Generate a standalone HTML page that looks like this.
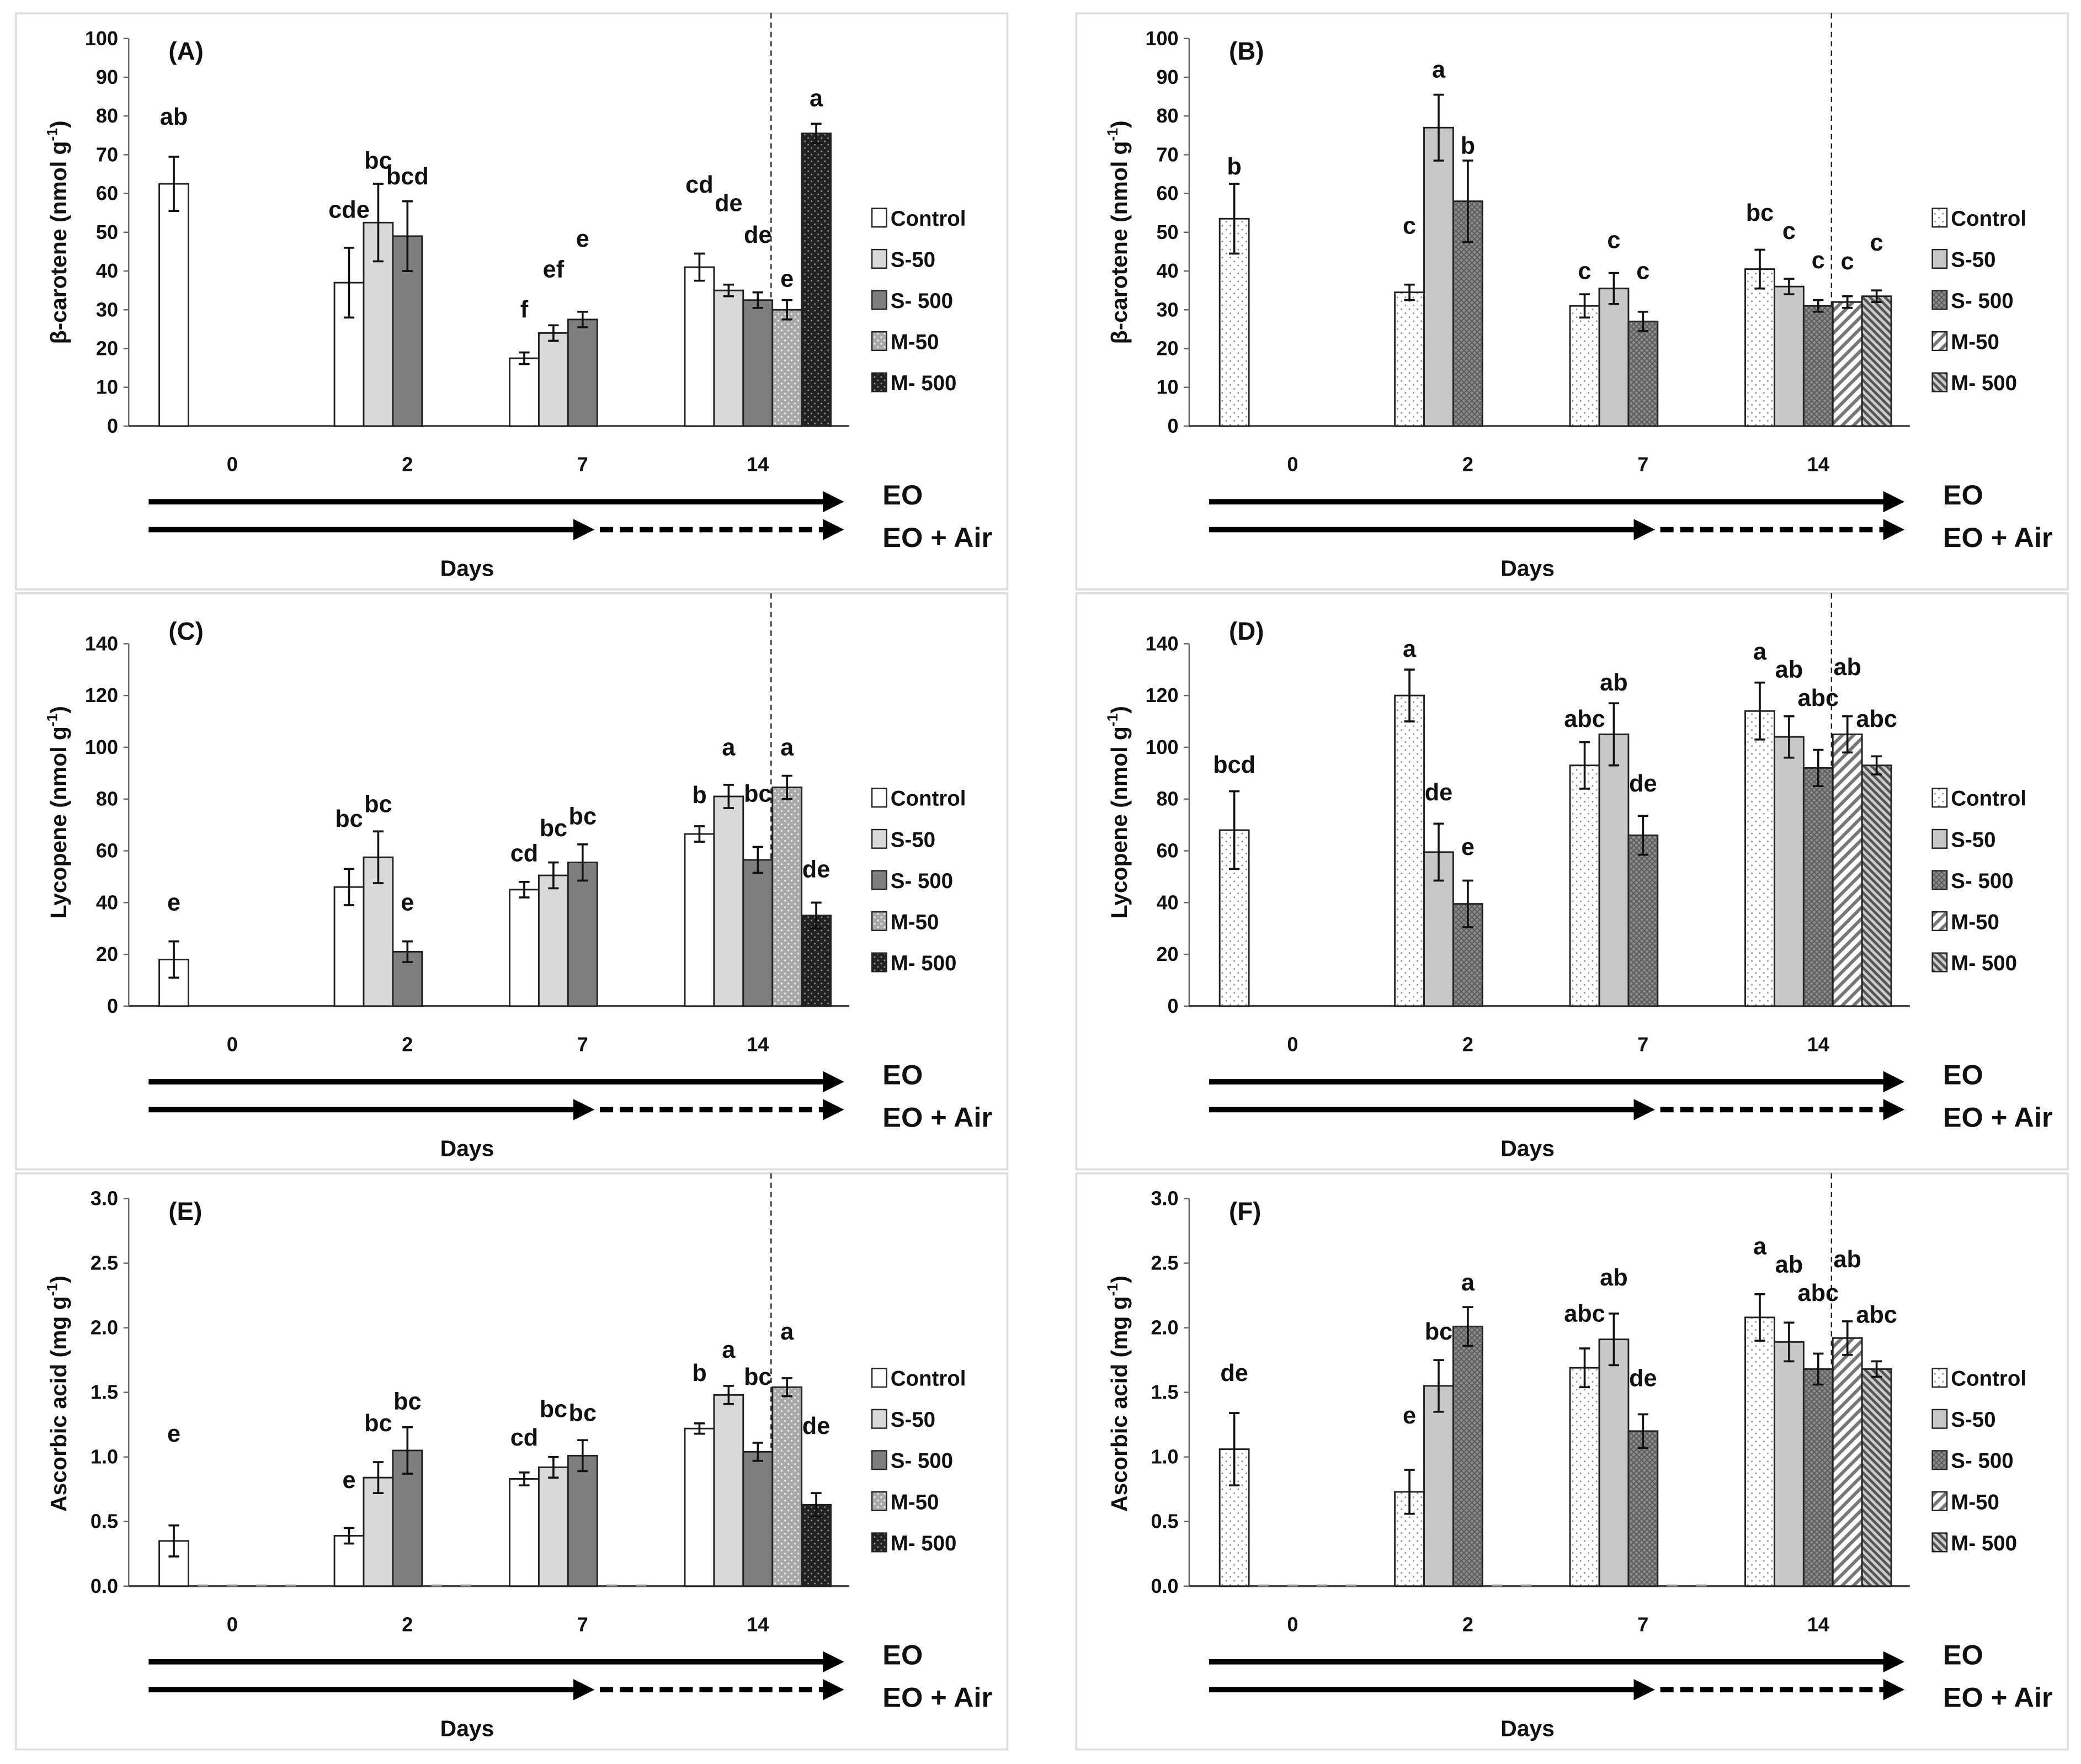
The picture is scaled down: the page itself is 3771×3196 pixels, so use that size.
<!DOCTYPE html>
<html><head><meta charset="utf-8"><style>
html,body{margin:0;padding:0;background:#fff}
svg{display:block}
text{font-family:"Liberation Sans",sans-serif;font-weight:bold;fill:#111}
</style></head><body>
<svg id="fig" width="3771" height="3196" viewBox="0 0 1568 1329" preserveAspectRatio="none" xmlns="http://www.w3.org/2000/svg">
<defs>
<pattern id="dotsLight" width="5" height="5" patternUnits="userSpaceOnUse"><rect width="5" height="5" fill="#a8a8a8"/><circle cx="1.5" cy="1.5" r="0.7" fill="#eee"/><circle cx="4" cy="4" r="0.7" fill="#eee"/></pattern>
<pattern id="dotsDark" width="5" height="5" patternUnits="userSpaceOnUse"><rect width="5" height="5" fill="#222"/><circle cx="1.5" cy="1.5" r="0.6" fill="#999"/><circle cx="4" cy="4" r="0.6" fill="#999"/></pattern>
<pattern id="dotsWhite" width="6" height="6" patternUnits="userSpaceOnUse"><rect width="6" height="6" fill="#fff"/><circle cx="2" cy="2" r="0.6" fill="#888"/><circle cx="5" cy="5" r="0.6" fill="#888"/></pattern>
<pattern id="cross" width="4" height="4" patternUnits="userSpaceOnUse"><rect width="4" height="4" fill="#8a8a8a"/><path d="M0 0L4 4M4 0L0 4" stroke="#5a5a5a" stroke-width="0.8"/></pattern>
<pattern id="diagW" width="6" height="6" patternUnits="userSpaceOnUse" patternTransform="rotate(45)"><rect width="6" height="6" fill="#fff"/><rect width="2.5" height="6" fill="#777"/></pattern>
<pattern id="diagG" width="4" height="4" patternUnits="userSpaceOnUse" patternTransform="rotate(-45)"><rect width="4" height="4" fill="#ccc"/><rect width="2" height="4" fill="#555"/></pattern>
<marker id="ah" markerWidth="4" markerHeight="4" refX="2" refY="2" orient="auto"><path d="M0 0L4 2L0 4Z" fill="#000"/></marker>
</defs>
</svg>
<script>
// ---- data ----
const categories = ["0","2","7","14"];
const seriesNames = ["Control","S-50","S- 500","M-50","M- 500"];
// Panel A: beta-carotene
const aVals = [[62.5,null,null,null,null],[37,52.5,49,null,null],[17.5,24,27.5,null,null],[41,35,32.5,30,75.5]];
const aErr  = [[7,0,0,0,0],[9,10,9,0,0],[1.5,2,2,0,0],[3.5,1.5,2,2.5,2.5]];
const aLet  = [["ab"],["cde","bc","bcd"],["f","ef","e"],["cd","de","de","e","a"]];
const aLetY = [[79.8],[55.8,68.5,64.4],[30.1,40.4,48.3],[62.3,57.5,49.3,38,84.6]];
// Panel B: beta-carotene
const bVals = [[53.5,null,null,null,null],[34.5,77,58,null,null],[31,35.5,27,null,null],[40.5,36,31,32,33.5]];
const bErr  = [[9,0,0,0,0],[2,8.5,10.5,0,0],[3,4,2.5,0,0],[5,2,1.5,1.5,1.5]];
const bLet  = [["b"],["c","a","b"],["c","c","c"],["bc","c","c","c","c"]];
const bLetY = [[67],[51.7,92,72.3],[40,48,40],[55,50.3,42.8,42.5,47.3]];
// Panel C: lycopene
const cVals = [[18,null,null,null,null],[46,57.5,21,null,null],[45,50.5,55.5,null,null],[66.5,81,56.5,84.5,35]];
const cErr  = [[7,0,0,0,0],[7,10,4,0,0],[3,5,7,0,0],[3,4.5,5,4.5,5]];
const cLet  = [["e"],["bc","bc","e"],["cd","bc","bc"],["b","a","bc","a","de"]];
const cLetY = [[40],[72.3,78,40],[59,68.7,73.3],[81.5,100,82,100,52.8]];
// Panel D: lycopene
const dVals = [[68,null,null,null,null],[120,59.5,39.5,null,null],[93,105,66,null,null],[114,104,92,105,93]];
const dErr  = [[15,0,0,0,0],[10,11,9,0,0],[9,12,7.5,0,0],[11,8,7,7,3.5]];
const dLet  = [["bcd"],["a","de","e"],["abc","ab","de"],["a","ab","abc","ab","abc"]];
const dLetY = [[93.3],[138,82.6,61.5],[111,125,86],[137,130,119,131,111]];
// Panel E: ascorbic acid
const eVals = [[0.35,0,0,0,0],[0.39,0.84,1.05,0,0],[0.83,0.92,1.01,0,0],[1.22,1.48,1.04,1.54,0.63]];
const eErr  = [[0.12,0,0,0,0],[0.06,0.12,0.18,0,0],[0.05,0.08,0.12,0,0],[0.04,0.07,0.07,0.07,0.09]];
const eLet  = [["e"],["e","bc","bc"],["cd","bc","bc"],["b","a","bc","a","de"]];
const eLetY = [[1.18],[0.82,1.26,1.43],[1.15,1.37,1.34],[1.65,1.83,1.62,1.97,1.24]];
// Panel F: ascorbic acid
const fVals = [[1.06,0,0,0,0],[0.73,1.55,2.01,0,0],[1.69,1.91,1.2,0,0],[2.08,1.89,1.68,1.92,1.68]];
const fErr  = [[0.28,0,0,0,0],[0.17,0.2,0.15,0,0],[0.15,0.2,0.13,0,0],[0.18,0.15,0.12,0.13,0.06]];
const fLet  = [["de"],["e","bc","a"],["abc","ab","de"],["a","ab","abc","ab","abc"]];
const fLetY = [[1.65],[1.32,1.97,2.35],[2.11,2.39,1.61],[2.63,2.49,2.27,2.53,2.1]];
const ticksBeta = [0,10,20,30,40,50,60,70,80,90,100];
const ticksLyc = [0,20,40,60,80,100,120,140];
const ticksAsc = ["0.0","0.5","1.0","1.5","2.0","2.5","3.0"];

const NS="http://www.w3.org/2000/svg";
const svg=document.getElementById('fig');
function mk(tag,attrs,parent,txt){const e=document.createElementNS(NS,tag);for(const k in attrs)e.setAttribute(k,attrs[k]);if(txt!==undefined)e.textContent=txt;(parent||svg).appendChild(e);return e;}

const fillsA=["#fff","#d9d9d9","#7f7f7f","url(#dotsLight)","url(#dotsDark)"];
const fillsB=["url(#dotsWhite)","#c8c8c8","url(#cross)","url(#diagW)","url(#diagG)"];

const panels=[
 {id:"A",ox:0,oy:0,top:29,vals:aVals,err:aErr,lt:aLet,ly:aLetY,ticks:ticksBeta,max:100,fills:fillsA,title:"β-carotene (nmol g",sup:"-1",zeroMarks:false,ty:175},
 {id:"B",ox:799,oy:0,top:29,vals:bVals,err:bErr,lt:bLet,ly:bLetY,ticks:ticksBeta,max:100,fills:fillsB,title:"β-carotene (nmol  g",sup:"-1",zeroMarks:false,ty:175},
 {id:"C",ox:0,oy:437,top:48,vals:cVals,err:cErr,lt:cLet,ly:cLetY,ticks:ticksLyc,max:140,fills:fillsA,title:"Lycopene (nmol g",sup:"-1",zeroMarks:false,ty:175},
 {id:"D",ox:799,oy:437,top:48,vals:dVals,err:dErr,lt:dLet,ly:dLetY,ticks:ticksLyc,max:140,fills:fillsB,title:"Lycopene (nmol g",sup:"-1",zeroMarks:false,ty:175},
 {id:"E",ox:0,oy:874,top:29,vals:eVals,err:eErr,lt:eLet,ly:eLetY,ticks:ticksAsc,max:3,fills:fillsA,title:"Ascorbic acid (mg g",sup:"-1",zeroMarks:true,ty:176},
 {id:"F",ox:799,oy:874,top:29,vals:fVals,err:fErr,lt:fLet,ly:fLetY,ticks:ticksAsc,max:3,fills:fillsB,title:"Ascorbic acid (mg g",sup:"-1",zeroMarks:true,ty:176}
];

panels.forEach(p=>{
  const g=mk('g',{transform:`translate(${p.ox},${p.oy})`});
  
  
  const frame=mk('rect',{x:12,y:10,width:747,height:434,fill:"none",stroke:"#ddd","stroke-width":1.5},g);
  
  
  const X0=97,Y0=321,Y1=p.top,XE=640;
  const yS=v=>Y0-(v/p.max)*(Y0-Y1);
  const xC=i=>175+i*132;
  const ya=mk('line',{x1:X0,y1:Y1,x2:X0,y2:Y0,stroke:"#666","stroke-width":1},g);
  
  
  p.ticks.forEach(t=>{
    const v=parseFloat(t);
    mk('line',{x1:X0-4,y1:yS(v),x2:X0,y2:yS(v),stroke:"#666"},g);
    const tl=mk('text',{x:X0-8,y:yS(v)+5,"text-anchor":"end","font-size":15},g,String(t));
    
    
  });
  const xa=mk('line',{x1:X0,y1:Y0,x2:XE,y2:Y0,stroke:"#444","stroke-width":1.5},g);
  
  
  const yt=mk('text',{x:0,y:0,transform:`translate(50,${p.ty}) rotate(-90)`,"text-anchor":"middle","font-size":17},g);
  
  
  mk('tspan',{},yt,p.title);
  mk('tspan',{dy:-7,"font-size":11},yt,p.sup);
  mk('tspan',{dy:7},yt,")");
  const pl=mk('text',{x:127,y:45,"font-size":19},g,"("+p.id+")");
  
  
  const dl=mk('line',{x1:581,y1:10,x2:581,y2:Y0,stroke:"#222","stroke-width":1,"stroke-dasharray":"4,3"},g);
  
  
  p.vals.forEach((grp,i)=>{
    grp.forEach((v,k)=>{
      if(v===null) return;
      const cx=xC(i)+(k-2)*22;
      if(v===0){ if(p.zeroMarks){mk('line',{x1:cx-4,y1:Y0-0.5,x2:cx+4,y2:Y0-0.5,stroke:"#999","stroke-width":1.5},g);} return; }
      const b=mk('rect',{x:cx-11,y:yS(v),width:22,height:Y0-yS(v),fill:p.fills[k],stroke:"#222","stroke-width":1.2},g);
      
      
      const e=p.err[i][k];
      if(e>0){
        const eb=mk('path',{d:`M${cx} ${yS(v+e)}V${yS(v-e)}M${cx-4} ${yS(v+e)}H${cx+4}M${cx-4} ${yS(v-e)}H${cx+4}`,stroke:"#111","stroke-width":1.5,fill:"none"},g);
        
        
      }
      const lt=p.lt[i][k];
      if(lt){
        const lb=mk('text',{x:cx,y:yS(p.ly[i][k])+6,"text-anchor":"middle","font-size":18},g,lt);
        
        
      }
    });
  });
  categories.forEach((c,i)=>{
    const t=mk('text',{x:xC(i),y:355,"text-anchor":"middle","font-size":15},g,c);
    
    
  });
  seriesNames.forEach((n,k)=>{
    const ly=164+k*31;
    const r=mk('rect',{x:657,y:ly-7,width:11,height:14,fill:p.fills[k],stroke:"#222","stroke-width":1},g);
    
    
    const t=mk('text',{x:671,y:ly+6,"font-size":16},g,n);
    
    
  });
  const a1=mk('line',{x1:112,y1:378,x2:628,y2:378,stroke:"#000","stroke-width":4,"marker-end":"url(#ah)"},g);
  
  
  mk('line',{x1:112,y1:399,x2:440,y2:399,stroke:"#000","stroke-width":4,"marker-end":"url(#ah)"},g);
  const a2=mk('line',{x1:452,y1:399,x2:628,y2:399,stroke:"#000","stroke-width":4,"stroke-dasharray":"10,5","marker-end":"url(#ah)"},g);
  
  
  const t1=mk('text',{x:665,y:380,"font-size":21},g,"EO");
  
  
  const t2=mk('text',{x:665,y:412,"font-size":21},g,"EO + Air");
  
  
  const dt=mk('text',{x:352,y:434,"text-anchor":"middle","font-size":17},g,"Days");
  
  
});
</script>
</body></html>
